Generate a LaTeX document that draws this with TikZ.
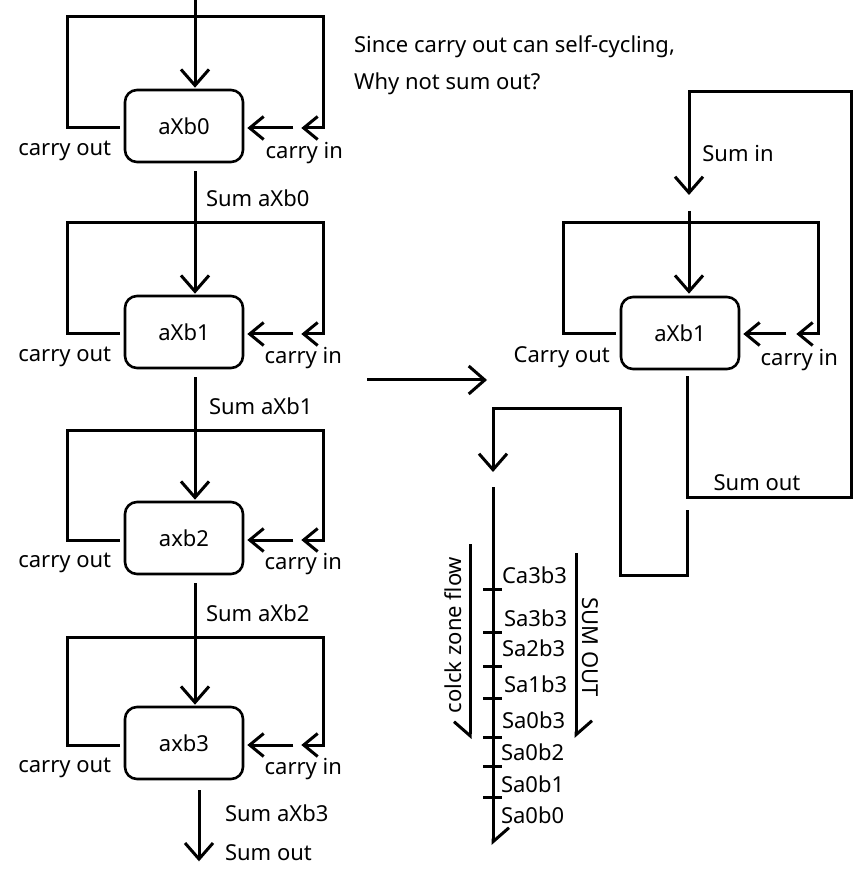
\documentclass[tikz,border=0pt]{standalone}
\usepackage{fontspec}
\setmainfont{Noto Sans}
\usetikzlibrary{positioning, calc, arrows.meta}

\newcommand{\diagfont}{\fontsize{11pt}{13pt}\selectfont}

\tikzset{
	unit/.style={draw, line width=1.3pt, rounded corners=6pt, minimum width=59pt, minimum height=36pt, inner sep=0pt},
	wire/.style={line width=1.5pt},
	tip/.style={-{Straight Barb[length=8pt, width=14pt]}},
	sidetip/.style={-{Straight Barb[length=7pt, width=11.5pt]}},
	halftipe/.style={-{Straight Barb[left, length=7pt, width=16pt]}},
	halftipw/.style={-{Straight Barb[right, length=7pt, width=16pt]}}
}

\begin{document}
\begin{tikzpicture}[x=0.5pt, y=-0.5pt, every node/.style={font=\diagfont}]
	\useasboundingbox (0,0) rectangle (866,870);

	\node[unit] (b0) at (184,126) {aXb0};
	\node[unit] (b1) at (184,332) {aXb1};
	\node[unit] (b2) at (184,538) {axb2};
	\node[unit] (b3) at (184,743) {axb3};
	\node[unit] (r1) at (680,333) {aXb1};

	\coordinate (top) at (195,0);
	\coordinate (sumin) at (689,211);
	\coordinate (fb) at (687,510);
	\coordinate (clk) at (493,487);
	\coordinate (clkend) at (493,845);

	% sum chain, left column
	\draw[wire, tip] (top) -- ($(b0.north)+(11,-1)$);
	\draw[wire, tip] ($(b0.south)+(11,8)$) -- ($(b1.north)+(11,-1)$);
	\draw[wire, tip] ($(b1.south)+(11,8)$) -- ($(b2.north)+(11,-1)$);
	\draw[wire, tip] ($(b2.south)+(11,8)$) -- ($(b3.north)+(11,-1)$);
	\draw[wire, tip] ($(b3.south)+(15,10)$) -- ($(b3.south)+(15,81)$);

	% carry loops
	\draw[wire, sidetip] ($(b0.west)+(-4,2)$) -| ($(b0.west)+(-56,-109)$) -| ($(b0.east)+(79,2)$) -- ($(b0.east)+(57,2)$);
	\draw[wire, sidetip] ($(b0.east)+(49,2)$) -- ($(b0.east)+(3,2)$);
	\draw[wire, sidetip] ($(b1.west)+(-4,2)$) -| ($(b1.west)+(-56,-109)$) -| ($(b1.east)+(79,2)$) -- ($(b1.east)+(57,2)$);
	\draw[wire, sidetip] ($(b1.east)+(49,2)$) -- ($(b1.east)+(3,2)$);
	\draw[wire, sidetip] ($(b2.west)+(-4,2)$) -| ($(b2.west)+(-56,-108)$) -| ($(b2.east)+(79,2)$) -- ($(b2.east)+(57,2)$);
	\draw[wire, sidetip] ($(b2.east)+(49,2)$) -- ($(b2.east)+(3,2)$);
	\draw[wire, sidetip] ($(b3.west)+(-4,2)$) -| ($(b3.west)+(-56,-106)$) -| ($(b3.east)+(79,2)$) -- ($(b3.east)+(57,2)$);
	\draw[wire, sidetip] ($(b3.east)+(49,2)$) -- ($(b3.east)+(3,2)$);
	\draw[wire, sidetip] ($(r1.west)+(-4,1)$) -| ($(r1.west)+(-56,-110)$) -| ($(r1.east)+(78,1)$) -- ($(r1.east)+(56,1)$);
	\draw[wire, sidetip] ($(r1.east)+(46,1)$) -- ($(r1.east)+(3,1)$);

	\node at ($(b0.west)+(-59,25)$) {carry out};
	\node at ($(b0.east)+(60,27)$) {carry in};
	\node at ($(b1.west)+(-59,25)$) {carry out};
	\node at ($(b1.east)+(59,26)$) {carry in};
	\node at ($(b2.west)+(-59,25)$) {carry out};
	\node at ($(b2.east)+(59,26)$) {carry in};
	\node at ($(b3.west)+(-59,25)$) {carry out};
	\node at ($(b3.east)+(59,26)$) {carry in};

	\node[anchor=west] at ($(b0.south)+(15,35)$) {Sum aXb0};
	\node[anchor=west] at ($(b1.south)+(18,37)$) {Sum aXb1};
	\node[anchor=west] at ($(b2.south)+(15,38)$) {Sum aXb2};
	\node[anchor=west] at ($(b3.south)+(34,33)$) {Sum aXb3};
	\node[anchor=west] at ($(b3.south)+(34,72)$) {Sum out};

	\node[anchor=base west] at (347,53) {Since carry out can self-cycling,};
	\node[anchor=base west] at (347,90) {Why not sum out?};

	\draw[wire, tip] (367,380) -- (487,380);

	% right: sum fed back
	\draw[wire, tip] ($(r1.south)+(7,6)$) |- (851,497) |- (689,92) -- (689,195);
	\draw[wire, tip] (sumin) -- ($(r1.north)+(9,-2)$);
	\draw[wire, tip] (fb) |- (620,575) |- (493,409) -- (493,472);

	\node at ($(r1.west)+(-58,24)$) {Carry out};
	\node at ($(r1.east)+(59,27)$) {carry in};
	\node at (738,154) {Sum in};
	\node at (757,483) {Sum out};

	% clock zone line
	\draw[wire, halftipe] (clk) -- (clkend);
	\foreach \y in {589,632,666,698,737,766,797}
		\draw[wire] (483,\y) -- (502,\y);

	\node[anchor=west] at (495,575) {Ca3b3};
	\node[anchor=west] at (497,618) {Sa3b3};
	\node[anchor=west] at (495,648) {Sa2b3};
	\node[anchor=west] at (497,684) {Sa1b3};
	\node[anchor=west] at (495,720) {Sa0b3};
	\node[anchor=west] at (494,752) {Sa0b2};
	\node[anchor=west] at (494,784) {Sa0b1};
	\node[anchor=west] at (494,815) {Sa0b0};

	\draw[wire, halftipw] (470,544) -- (470,739);
	\node[rotate=90] at (453,635) {colck zone flow};
	\draw[wire, halftipe] (576,553) -- (576,738);
	\node[rotate=-90] at (590,647) {SUM OUT};
\end{tikzpicture}
\end{document}
